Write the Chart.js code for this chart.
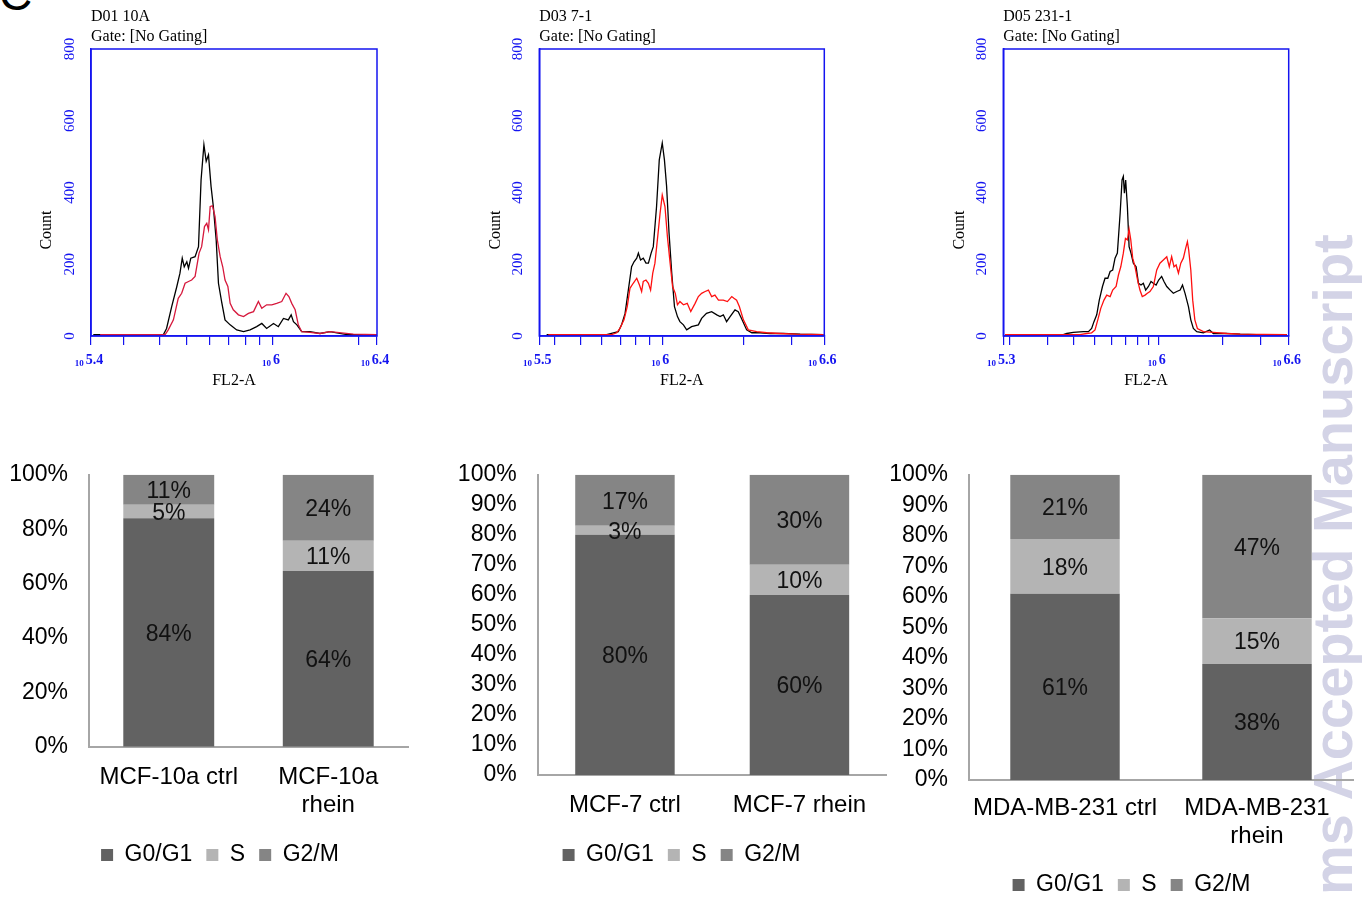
<!DOCTYPE html>
<html>
<head>
<meta charset="utf-8">
<script src="https://cdn.jsdelivr.net/npm/chart.js@4.4.1/dist/chart.umd.min.js"></script>
<style>
html, body { margin: 0; padding: 0; background: #fff; width: 1362px; height: 901px; overflow: hidden; }
body { position: relative; }
canvas { position: absolute; }
#panelC { position: absolute; left: -1px; top: -29px; font: 46px/1 "Liberation Sans", Arial, sans-serif; color: #000; }
#wm { position: absolute; left: 1305px; top: 895px; transform-origin: left top; transform: rotate(-90deg);
      font: bold 56px/1 "Liberation Sans", Arial, sans-serif; color: #d3d3e6; white-space: nowrap; }
</style>
</head>
<body>
<div id="wm">ms Accepted Manuscript</div>
<div id="panelC">C</div>
<canvas id="h1" width="440" height="400" style="left:0;top:0"></canvas>
<canvas id="h2" width="440" height="400" style="left:450px;top:0"></canvas>
<canvas id="h3" width="452" height="400" style="left:910px;top:0"></canvas>
<canvas id="b1" width="440" height="460" style="left:0;top:440px"></canvas>
<canvas id="b2" width="471" height="460" style="left:446px;top:440px"></canvas>
<canvas id="b3" width="503" height="470" style="left:880px;top:440px"></canvas>
<script>
// --- histogram data (x = log10 FL2-A, y = count) ---
// MCF-10a : black = ctrl, red = rhein
const h10aCtrlX = [5.370, 5.616, 5.627, 5.645, 5.663, 5.674, 5.682, 5.689, 5.698, 5.704, 5.712, 5.727, 5.739, 5.748, 5.758, 5.766, 5.774, 5.783, 5.791, 5.801, 5.809, 5.820, 5.832, 5.850, 5.873, 5.897, 5.920, 5.943, 5.961, 5.978, 6.002, 6.019, 6.037, 6.054, 6.064, 6.072, 6.084, 6.101, 6.130, 6.165, 6.200, 6.259, 6.364];
const h10aCtrlY = [4, 4, 21, 82, 138, 175, 217, 193, 207, 189, 217, 221, 249, 435, 533, 487, 505, 417, 361, 268, 147, 96, 45, 31, 17, 12, 17, 26, 35, 21, 35, 26, 49, 45, 59, 40, 31, 12, 12, 7, 12, 4, 4];
const h10aRheinX = [5.394, 5.622, 5.633, 5.651, 5.668, 5.680, 5.692, 5.704, 5.715, 5.727, 5.735, 5.741, 5.750, 5.760, 5.768, 5.774, 5.780, 5.788, 5.797, 5.805, 5.815, 5.824, 5.832, 5.842, 5.850, 5.861, 5.879, 5.897, 5.914, 5.932, 5.949, 5.961, 5.978, 5.996, 6.013, 6.031, 6.046, 6.056, 6.066, 6.078, 6.089, 6.101, 6.130, 6.165, 6.200, 6.282, 6.364];
const h10aRheinY = [4, 4, 17, 45, 105, 119, 147, 152, 156, 166, 203, 231, 249, 305, 314, 296, 361, 363, 333, 268, 221, 193, 156, 138, 91, 73, 59, 54, 63, 68, 96, 77, 87, 87, 91, 96, 119, 110, 91, 73, 31, 12, 10, 7, 12, 5, 4];

// MCF-7
const h7CtrlX = [5.574, 5.795, 5.820, 5.838, 5.850, 5.863, 5.875, 5.887, 5.896, 5.906, 5.912, 5.920, 5.930, 5.940, 5.949, 5.959, 5.967, 5.979, 5.989, 6.000, 6.008, 6.016, 6.025, 6.035, 6.045, 6.056, 6.065, 6.078, 6.090, 6.108, 6.133, 6.145, 6.163, 6.182, 6.201, 6.213, 6.225, 6.237, 6.250, 6.268, 6.280, 6.292, 6.311, 6.330, 6.360, 6.397, 6.446, 6.508, 6.594];
const h7CtrlY = [4, 4, 9, 12, 31, 63, 128, 193, 207, 217, 231, 212, 217, 203, 203, 231, 249, 361, 491, 538, 491, 417, 287, 175, 82, 54, 40, 31, 17, 26, 31, 49, 63, 68, 59, 54, 59, 40, 54, 73, 68, 49, 17, 9, 9, 7, 7, 5, 4];
const h7RheinX = [5.580, 5.814, 5.832, 5.844, 5.859, 5.871, 5.881, 5.893, 5.906, 5.916, 5.924, 5.930, 5.940, 5.949, 5.957, 5.965, 5.973, 5.982, 5.992, 6.000, 6.010, 6.019, 6.029, 6.038, 6.048, 6.056, 6.065, 6.078, 6.092, 6.105, 6.121, 6.133, 6.145, 6.158, 6.170, 6.182, 6.194, 6.207, 6.225, 6.240, 6.256, 6.264, 6.274, 6.284, 6.299, 6.317, 6.348, 6.385, 6.434, 6.495, 6.594];
const h7RheinY = [4, 4, 9, 21, 45, 82, 133, 147, 161, 142, 124, 152, 156, 147, 128, 175, 203, 268, 342, 393, 361, 277, 203, 138, 119, 87, 96, 87, 91, 68, 91, 110, 119, 124, 128, 110, 114, 100, 100, 96, 110, 105, 100, 82, 45, 17, 12, 9, 7, 5, 4];

// MDA-MB-231
const h231CtrlX = [5.278, 5.552, 5.568, 5.599, 5.646, 5.670, 5.685, 5.696, 5.709, 5.721, 5.736, 5.748, 5.761, 5.772, 5.784, 5.795, 5.806, 5.819, 5.828, 5.834, 5.839, 5.845, 5.853, 5.861, 5.870, 5.881, 5.894, 5.905, 5.917, 5.928, 5.939, 5.952, 5.964, 5.975, 5.988, 6.000, 6.014, 6.025, 6.038, 6.054, 6.069, 6.085, 6.101, 6.112, 6.124, 6.140, 6.151, 6.163, 6.179, 6.210, 6.239, 6.257, 6.320, 6.383, 6.461, 6.602];
const h231CtrlY = [4, 4, 7, 10, 12, 12, 21, 40, 59, 100, 138, 161, 161, 180, 184, 217, 231, 342, 435, 445, 398, 435, 361, 249, 231, 203, 193, 147, 142, 147, 128, 138, 152, 147, 142, 156, 166, 152, 138, 128, 119, 124, 128, 142, 119, 82, 45, 21, 12, 9, 17, 7, 7, 5, 4, 4];
const h231RheinX = [5.278, 5.630, 5.662, 5.685, 5.701, 5.714, 5.728, 5.743, 5.756, 5.772, 5.784, 5.800, 5.811, 5.822, 5.834, 5.844, 5.853, 5.861, 5.869, 5.878, 5.889, 5.901, 5.912, 5.923, 5.936, 5.947, 5.959, 5.975, 5.991, 6.006, 6.022, 6.038, 6.050, 6.061, 6.072, 6.082, 6.093, 6.104, 6.116, 6.127, 6.135, 6.141, 6.151, 6.160, 6.170, 6.182, 6.210, 6.257, 6.320, 6.383, 6.602];
const h231RheinY = [4, 4, 7, 9, 17, 45, 77, 100, 114, 110, 128, 138, 170, 193, 231, 272, 268, 298, 268, 217, 193, 156, 128, 110, 114, 119, 124, 138, 184, 203, 212, 221, 193, 221, 193, 198, 175, 203, 217, 245, 263, 240, 184, 100, 45, 21, 12, 10, 7, 5, 4];

// minor tick positions on the log axis: 2e5..9e5, 1e6..4e6
const minorTicks = [2e5, 3e5, 4e5, 5e5, 6e5, 7e5, 8e5, 9e5, 1e6, 2e6, 3e6, 4e6].map(Math.log10);

// --- bar chart data (percent) ---
const phases = ['G0/G1', 'S', 'G2/M'];
const phaseColors = ['#626262', '#b4b4b4', '#858585'];

const groups10a = ['MCF-10a ctrl', ['MCF-10a', 'rhein']];
const g0g1_10a = [84, 64];
const s_10a = [5, 11];
const g2m_10a = [11, 24];

const groups7 = ['MCF-7 ctrl', 'MCF-7 rhein'];
const g0g1_7 = [80, 60];
const s_7 = [3, 10];
const g2m_7 = [17, 30];

const groups231 = ['MDA-MB-231 ctrl', ['MDA-MB-231', 'rhein']];
const g0g1_231 = [61, 38];
const s_231 = [18, 15];
const g2m_231 = [21, 47];

const BLUE = '#1414f0';
const SERIF = '"Liberation Serif", "Times New Roman", serif';
const SANS = '"Liberation Sans", Arial, sans-serif';

function zip(xs, ys) {
    return xs.map((x, i) => ({ x: x, y: ys[i] }));
}

// box, titles and the 10^n labels of the flow plots
const flowText = {
    id: 'flowText',
    afterDraw(chart, args, opts) {
        const { ctx, chartArea: a } = chart;
        const xs = chart.scales.x;
        ctx.save();
        ctx.strokeStyle = BLUE;
        ctx.lineWidth = 1.5;
        ctx.strokeRect(a.left, a.top, a.right - a.left, a.bottom - a.top);

        ctx.fillStyle = '#000';
        ctx.font = '16px ' + SERIF;
        ctx.textAlign = 'left';
        ctx.textBaseline = 'alphabetic';
        ctx.fillText(opts.sample, a.left, a.top - 28);
        ctx.fillText('Gate: [No Gating]', a.left, a.top - 8);
        ctx.textAlign = 'center';
        ctx.fillText('FL2-A', (a.left + a.right) / 2, a.bottom + 49);

        ctx.save();
        ctx.translate(a.left - 44, a.top + 181);
        ctx.rotate(-Math.PI / 2);
        ctx.textBaseline = 'middle';
        ctx.fillText('Count', 0, 0);
        ctx.restore();

        ctx.fillStyle = BLUE;
        ctx.textAlign = 'left';
        opts.labels.forEach(l => {
            const px = xs.getPixelForValue(l.value);
            ctx.font = 'bold 9px ' + SERIF;
            const wb = ctx.measureText('10').width;
            ctx.font = 'bold 14px ' + SERIF;
            const we = ctx.measureText(l.exp).width;
            const start = px - 2 - (wb + 2 + we) / 2;
            ctx.font = 'bold 9px ' + SERIF;
            ctx.fillText('10', start, a.bottom + 30);
            ctx.font = 'bold 14px ' + SERIF;
            ctx.fillText(l.exp, start + wb + 2, a.bottom + 28);
        });
        ctx.restore();
    }
};

function makeHist(id, o) {
    const tickVals = [o.xMin].concat(minorTicks.filter(v => v > o.xMin + 0.01 && v < o.xMax - 0.01), [o.xMax]);
    return new Chart(document.getElementById(id), {
        type: 'line',
        data: {
            datasets: [
                { label: 'rhein', data: zip(o.redX, o.redY), borderColor: o.red, borderWidth: 1.3, pointRadius: 0, tension: 0, fill: false },
                { label: 'ctrl', data: zip(o.blackX, o.blackY), borderColor: '#000', borderWidth: 1.3, pointRadius: 0, tension: 0, fill: false }
            ]
        },
        options: {
            responsive: false,
            animation: false,
            devicePixelRatio: 1,
            layout: { padding: { top: 49, right: o.padRight, left: 0, bottom: 0 } },
            plugins: {
                legend: { display: false },
                tooltip: { enabled: false },
                flowText: { sample: o.sample, labels: o.labels }
            },
            scales: {
                x: {
                    type: 'linear', min: o.xMin, max: o.xMax,
                    afterBuildTicks: s => { s.ticks = tickVals.map(v => ({ value: v })); },
                    afterFit: s => { s.height = 64; },
                    ticks: { display: false },
                    grid: { drawOnChartArea: false, drawTicks: true, tickLength: 9, color: BLUE, lineWidth: 1.2 },
                    border: { color: BLUE, width: 1.5 }
                },
                y: {
                    min: 0, max: 800,
                    afterFit: s => { s.width = o.yWidth; },
                    ticks: { stepSize: 200, minRotation: 90, maxRotation: 90, crossAlign: 'center', padding: 10,
                             color: BLUE, font: { family: SERIF, size: 15 } },
                    grid: { display: false, drawTicks: false },
                    border: { color: BLUE, width: 1.5 }
                }
            }
        },
        plugins: [flowText]
    });
}

makeHist('h1', {
    sample: 'D01 10A', xMin: 5.362, xMax: 6.365, yWidth: 91, padRight: 63, red: '#d6183c',
    blackX: h10aCtrlX, blackY: h10aCtrlY, redX: h10aRheinX, redY: h10aRheinY,
    labels: [{ value: 5.362, exp: '5.4' }, { value: 6, exp: '6' }, { value: 6.365, exp: '6.4' }]
});
makeHist('h2', {
    sample: 'D03 7-1', xMin: 5.547, xMax: 6.597, yWidth: 89.3, padRight: 65.7, red: '#ff1010',
    blackX: h7CtrlX, blackY: h7CtrlY, redX: h7RheinX, redY: h7RheinY,
    labels: [{ value: 5.547, exp: '5.5' }, { value: 6, exp: '6' }, { value: 6.597, exp: '6.6' }]
});
makeHist('h3', {
    sample: 'D05 231-1', xMin: 5.270, xMax: 6.611, yWidth: 93.3, padRight: 73.3, red: '#ff1010',
    blackX: h231CtrlX, blackY: h231CtrlY, redX: h231RheinX, redY: h231RheinY,
    labels: [{ value: 5.270, exp: '5.3' }, { value: 6, exp: '6' }, { value: 6.611, exp: '6.6' }]
});

// percent labels in the middle of each segment
const segLabels = {
    id: 'segLabels',
    afterDatasetsDraw(chart) {
        const ctx = chart.ctx;
        ctx.save();
        ctx.font = '23px ' + SANS;
        ctx.fillStyle = '#111';
        ctx.textAlign = 'center';
        ctx.textBaseline = 'middle';
        chart.data.datasets.forEach((ds, di) => {
            chart.getDatasetMeta(di).data.forEach((bar, i) => {
                ctx.fillText(ds.shown[i] + '%', bar.x, (bar.y + bar.base) / 2 + 2);
            });
        });
        ctx.restore();
    }
};

function makeBars(id, o) {
    const series = [o.g0g1, o.s, o.g2m];
    const totals = o.g0g1.map((v, i) => v + o.s[i] + o.g2m[i]);
    return new Chart(document.getElementById(id), {
        type: 'bar',
        data: {
            labels: o.groups,
            datasets: series.map((vals, k) => ({
                label: phases[k],
                data: vals.map((v, i) => v / totals[i] * 100),
                shown: vals,
                backgroundColor: phaseColors[k],
                borderWidth: 0,
                barPercentage: 1,
                categoryPercentage: 0.57
            }))
        },
        options: {
            responsive: false,
            animation: false,
            devicePixelRatio: 1,
            layout: { padding: { top: 34, left: 0, right: 0, bottom: o.padBottom } },
            plugins: {
                tooltip: { enabled: false },
                legend: {
                    position: 'bottom',
                    labels: { boxWidth: 12, boxHeight: 12, padding: 14, color: '#000', font: { family: SANS, size: 23 } }
                }
            },
            scales: {
                x: {
                    stacked: true,
                    afterFit: s => { s.height = o.xHeight; },
                    grid: { display: false, drawTicks: false },
                    border: { color: '#a6a6a6', width: 2 },
                    ticks: { color: '#000', padding: o.xPad, maxRotation: 0, autoSkip: false,
                             font: { family: SANS, size: 24, lineHeight: 1.167 } }
                },
                y: {
                    stacked: true, min: 0, max: 100,
                    afterFit: s => { s.width = o.yWidth; },
                    grid: { display: false, drawTicks: false },
                    border: { color: '#a6a6a6', width: 2 },
                    ticks: { stepSize: o.step, autoSkip: false, padding: 21, color: '#000', callback: v => v + '%',
                             font: { family: SANS, size: 23 } }
                },
                // empty spacer on the right so the legend sits where it does in the figure
                yRight: {
                    position: 'right',
                    afterFit: s => { s.width = o.rightW; },
                    grid: { display: false, drawTicks: false },
                    border: { display: false },
                    ticks: { display: false }
                }
            }
        },
        plugins: [segLabels]
    });
}

makeBars('b1', { groups: groups10a, g0g1: g0g1_10a, s: s_10a, g2m: g2m_10a, step: 20,
    yWidth: 89, rightW: 32, xHeight: 82.8, padBottom: 23.5, xPad: 16.3 });
makeBars('b2', { groups: groups7, g0g1: g0g1_7, s: s_7, g2m: g2m_7, step: 10,
    yWidth: 91.7, rightW: 30.3, xHeight: 54.5, padBottom: 23.5, xPad: 16 });
makeBars('b3', { groups: groups231, g0g1: g0g1_231, s: s_231, g2m: g2m_231, step: 10,
    yWidth: 89, rightW: 30, xHeight: 79.5, padBottom: 3.5, xPad: 14 });
</script>
</body>
</html>
